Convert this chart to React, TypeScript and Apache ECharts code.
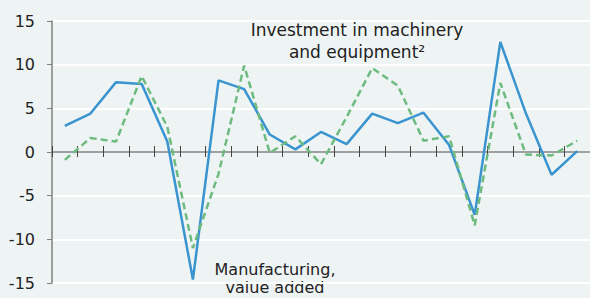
import React, { useEffect, useRef } from "react";
import * as echarts from "echarts";

const categories = ["1","2","3","4","5","6","7","8","9","10","11","12","13","14","15","16","17","18","19","20","21"];
const manufacturing = [3.0, 4.4, 8.0, 7.8, 1.2, -14.6, 8.2, 7.2, 2.0, 0.3, 2.3, 0.9, 4.4, 3.3, 4.5, 0.8, -7.2, 12.6, 4.4, -2.6, 0.1];
const investment = [-0.9, 1.6, 1.2, 8.7, 2.9, -11.0, -2.5, 9.9, -0.1, 1.8, -1.4, 4.0, 9.6, 7.6, 1.3, 1.8, -8.4, 7.9, -0.3, -0.4, 1.3];
const investmentLabel = ["Investment in machinery", "and equipment\u00B2"];
const manufacturingLabel = ["Manufacturing,", "value added"];

const FONT = "DejaVu Sans";

export default function App() {
  const ref = useRef<HTMLDivElement>(null);
  useEffect(() => {
    if (!ref.current) return;
    const chart = echarts.init(ref.current, undefined, { renderer: "svg" });
    chart.setOption({
      animation: false,
      backgroundColor: "#eef4f4",
      grid: { left: 52, right: -2, top: 21, bottom: 15, containLabel: false },
      xAxis: [
        {
          type: "category",
          data: categories,
          boundaryGap: true,
          axisLine: { show: true, onZero: true, lineStyle: { color: "#808080", width: 1.5 } },
          axisTick: { show: true, length: 5, lineStyle: { color: "#444", width: 1 } },
          axisLabel: { show: false },
          splitLine: { show: false },
        },
        {
          type: "category",
          data: categories,
          boundaryGap: true,
          position: "bottom",
          offset: -131,
          axisLine: { show: false, onZero: false },
          axisTick: { show: true, inside: true, length: 6, lineStyle: { color: "#444", width: 1 } },
          axisLabel: { show: false },
          splitLine: { show: false },
        },
      ],
      yAxis: {
        type: "value",
        min: -15,
        max: 15,
        interval: 5,
        axisLine: { show: true, lineStyle: { color: "#808080", width: 1.5 } },
        axisTick: { show: true, length: 5, lineStyle: { color: "#808080" } },
        axisLabel: { margin: 17, color: "#222", fontSize: 16, fontFamily: FONT },
        splitLine: { show: true, lineStyle: { color: "#ffffff", width: 2 } },
      },
      series: [
        {
          type: "line",
          data: manufacturing,
          symbol: "none",
          lineStyle: { color: "#3a94d0", width: 2.5 },
          z: 3,
        },
        {
          type: "line",
          data: investment,
          symbol: "none",
          lineStyle: { color: "#6dbb7f", width: 2.5, type: [7, 4] },
          z: 4,
        },
      ],
      graphic: [
        {
          type: "text",
          x: 357,
          y: 30,
          style: { text: investmentLabel[0], fill: "#222", font: `17px '${FONT}'`, textAlign: "center", textVerticalAlign: "middle" },
        },
        {
          type: "text",
          x: 357,
          y: 52,
          style: { text: investmentLabel[1], fill: "#222", font: `17px '${FONT}'`, textAlign: "center", textVerticalAlign: "middle" },
        },
        {
          type: "text",
          x: 275,
          y: 269,
          style: { text: manufacturingLabel[0], fill: "#222", font: `16px '${FONT}'`, textAlign: "center", textVerticalAlign: "middle" },
        },
        {
          type: "text",
          x: 275,
          y: 287,
          style: { text: manufacturingLabel[1], fill: "#222", font: `16px '${FONT}'`, textAlign: "center", textVerticalAlign: "middle" },
        },
      ],
    });
    return () => chart.dispose();
  }, []);
  return <div ref={ref} style={{ position: "fixed", left: 0, top: 0, width: 590, height: 298 }} />;
}
